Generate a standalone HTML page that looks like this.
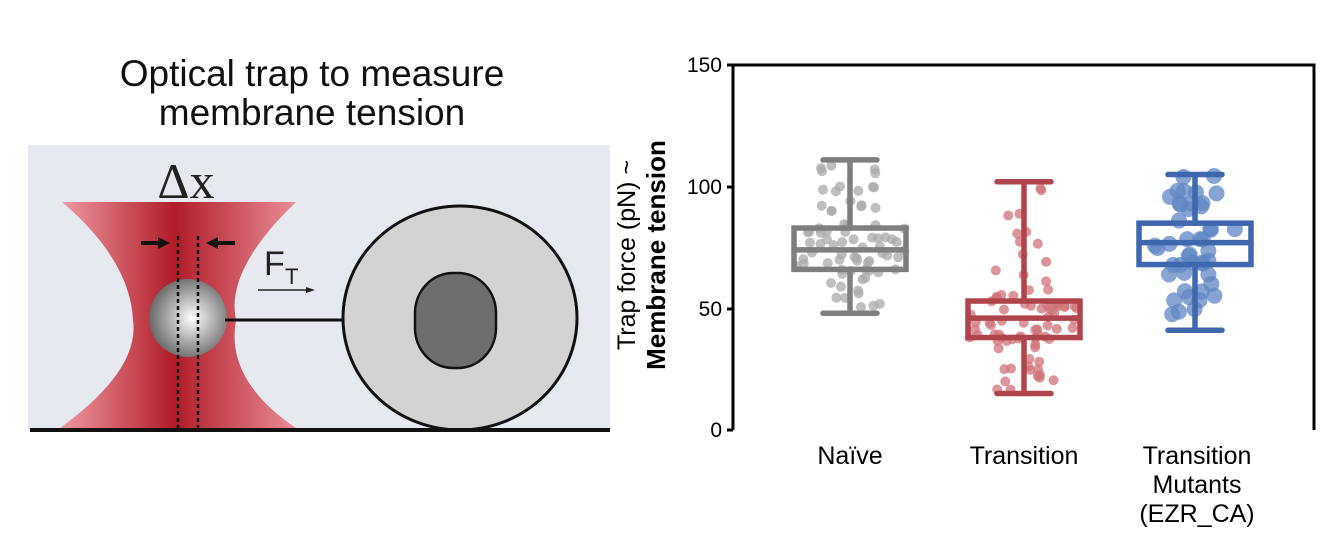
<!DOCTYPE html>
<html><head><meta charset="utf-8"><style>
html,body{margin:0;padding:0;background:#fff;}
svg{display:block;}
</style></head><body>
<svg id="s" width="1326" height="548" viewBox="0 0 1326 548" xmlns="http://www.w3.org/2000/svg">
<defs>
<linearGradient id="beam" x1="60" y1="0" x2="298" y2="0" gradientUnits="userSpaceOnUse">
<stop offset="0" stop-color="#ef9aa4"/>
<stop offset="0.48" stop-color="#b01c28"/>
<stop offset="1" stop-color="#ea8e98"/>
</linearGradient>
<radialGradient id="ball" cx="0.55" cy="0.5" r="0.6">
<stop offset="0" stop-color="#ffffff"/>
<stop offset="1" stop-color="#5a5a5a"/>
</radialGradient>
</defs>
<text x="312" y="86" font-family="Liberation Sans, sans-serif" font-size="37" text-anchor="middle" fill="#111">Optical trap to measure</text>
<text x="312" y="125" font-family="Liberation Sans, sans-serif" font-size="37" text-anchor="middle" fill="#111">membrane tension</text>
<rect x="28" y="145" width="582" height="285" fill="#e6e9f0"/>
<path d="M62 202 L296 202 Q225 270 236 320 Q225 380 296 428 L60 428 Q140 370 133 320 Q130 260 62 202 Z" fill="url(#beam)"/>
<text x="186" y="198" font-family="Liberation Serif, serif" font-size="50" text-anchor="middle" fill="#222">Δx</text>
<circle cx="188" cy="318" r="39" fill="url(#ball)"/>
<line x1="178" y1="236" x2="178" y2="430" stroke="#111" stroke-width="2.5" stroke-dasharray="4,3"/>
<line x1="198" y1="236" x2="198" y2="430" stroke="#111" stroke-width="2.5" stroke-dasharray="4,3"/>
<line x1="141" y1="243" x2="160" y2="243" stroke="#111" stroke-width="4"/>
<polygon points="158,237 170,243 158,249" fill="#111"/>
<line x1="216" y1="243" x2="235" y2="243" stroke="#111" stroke-width="4"/>
<polygon points="218,237 206,243 218,249" fill="#111"/>
<text x="264" y="275" font-family="Liberation Sans, sans-serif" font-size="34" fill="#222">F</text>
<text x="285" y="284" font-family="Liberation Sans, sans-serif" font-size="22" fill="#222">T</text>
<line x1="258" y1="290" x2="308" y2="290" stroke="#222" stroke-width="1.5"/>
<polygon points="306,287 315,290 306,293" fill="#222"/>
<line x1="225" y1="320" x2="345" y2="320" stroke="#111" stroke-width="3"/>
<ellipse cx="460" cy="318" rx="117" ry="112" fill="#d3d3d3" stroke="#111" stroke-width="3"/>
<rect x="415" y="273" width="81" height="95" rx="38" ry="40" fill="#6e6e6e" stroke="#111" stroke-width="2.5"/>
<line x1="30" y1="430" x2="610" y2="430" stroke="#111" stroke-width="4"/>

<g id="plot"></g>
<path d="M733 430 L733 65 L1314 65 L1314 430" fill="none" stroke="#000" stroke-width="3"/>
<g stroke="#000" stroke-width="3">
<line x1="727" y1="65" x2="733" y2="65"/><line x1="727" y1="187" x2="733" y2="187"/>
<line x1="727" y1="309" x2="733" y2="309"/><line x1="727" y1="430" x2="733" y2="430"/>
</g>
<g font-family="Liberation Sans, sans-serif" font-size="21" fill="#000" text-anchor="end">
<text x="722" y="72">150</text><text x="722" y="194">100</text><text x="722" y="316">50</text><text x="722" y="437">0</text>
</g>
<g font-family="Liberation Sans, sans-serif" font-size="25" fill="#000" text-anchor="middle">
<text transform="translate(635,255) rotate(-90)" font-size="25">Trap force (pN) ~</text>
<text transform="translate(665,255) rotate(-90)" font-size="26" font-weight="bold">Membrane tension</text>
<text x="850" y="464">Naïve</text>
<text x="1024" y="464">Transition</text>
<text x="1197" y="464">Transition</text>
<text x="1197" y="493">Mutants</text>
<text x="1197" y="522">(EZR_CA)</text>
</g>
</svg>
<script>
(function(){
var g=document.getElementById('plot');var ns='http://www.w3.org/2000/svg';
var seed=7;function r(){seed=(seed*16807)%2147483647;return seed/2147483647;}
function y(v){return 430-v*365/150;}
function grp(cx,col,dot,rad,n,q1,med,q3,lo,hi,spread){
 for(var i=0;i<n;i++){
  var u=r(),v;
  if(u<0.5) v=q1+(q3-q1)*r(); else if(u<0.75) v=q3+(hi-q3)*Math.pow(r(),1.6); else v=q1-(q1-lo)*Math.pow(r(),1.6);
  var c=document.createElementNS(ns,'circle');
  var w=spread*(v>=q1&&v<=q3?1:0.55);
  c.setAttribute('cx',cx+(r()*2-1)*w);c.setAttribute('cy',y(v));c.setAttribute('r',rad);
  c.setAttribute('fill',dot);c.setAttribute('fill-opacity','0.75');g.appendChild(c);
 }
 var s='stroke="'+col+'" stroke-width="5.5" fill="none" stroke-linecap="round"';
 var h='<line x1="'+(cx-27)+'" y1="'+y(hi)+'" x2="'+(cx+27)+'" y2="'+y(hi)+'" '+s+'/>'+
 '<line x1="'+(cx-27)+'" y1="'+y(lo)+'" x2="'+(cx+27)+'" y2="'+y(lo)+'" '+s+'/>'+
 '<line x1="'+cx+'" y1="'+y(hi)+'" x2="'+cx+'" y2="'+y(q3)+'" '+s+'/>'+
 '<line x1="'+cx+'" y1="'+y(q1)+'" x2="'+cx+'" y2="'+y(lo)+'" '+s+'/>'+
 '<rect x="'+(cx-56)+'" y="'+y(q3)+'" width="112" height="'+(y(q1)-y(q3))+'" '+s.replace('stroke-linecap="round"','')+'/>'+
 '<line x1="'+(cx-56)+'" y1="'+y(med)+'" x2="'+(cx+56)+'" y2="'+y(med)+'" '+s+'/>';
 g.insertAdjacentHTML('beforeend',h);
}
grp(850,'#7f7f7f','#a9a9a9',5,75,66,74,83,48,111,55);
grp(1024,'#b0444c','#d0737a',5,80,38,46,53,15,102,55);
grp(1195,'#3f67ad','#5f86c3',8,45,68,77,85,41,105,50);
})();
</script>
</body></html>
